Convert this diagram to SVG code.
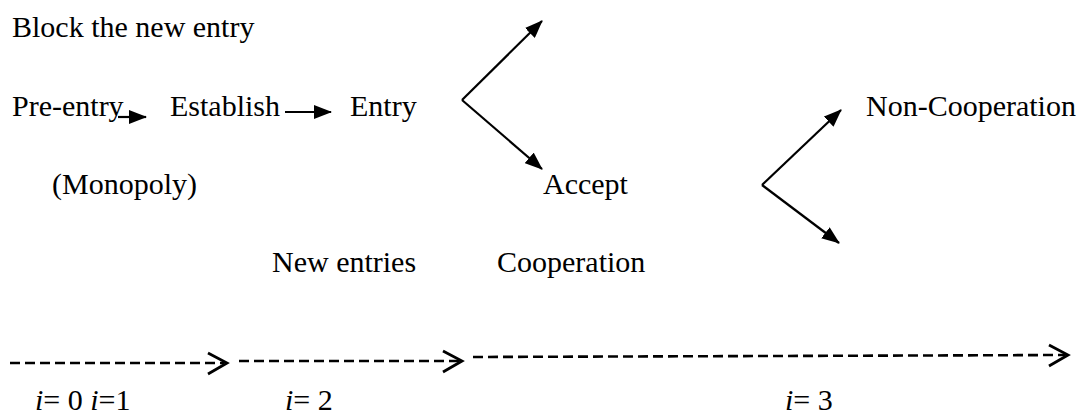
<svg xmlns="http://www.w3.org/2000/svg" width="1089" height="416" viewBox="0 0 1089 416">
<style>
text{font-family:"Liberation Serif",serif;font-size:30px;fill:#000}
.i{font-style:italic}
.ln{stroke:#000;stroke-width:2.2;fill:none}
.ds{stroke:#000;stroke-width:2.6;fill:none;stroke-dasharray:10 5}
.ch{stroke:#000;stroke-width:2.8;fill:none}
</style>
<defs>
<marker id="ah" viewBox="0 0 18 14" refX="17" refY="7" markerWidth="18" markerHeight="14" markerUnits="userSpaceOnUse" orient="auto">
<path d="M0,0 L18,7 L0,14 z" fill="#000"/>
</marker>
</defs>
<rect width="1089" height="416" fill="#fff"/>
<g id="block"><text x="12" y="37" font-family="Liberation Serif, serif">Block the new entry</text></g>
<g id="preentry"><text x="12" y="116" font-family="Liberation Serif, serif">Pre-entry</text></g>
<g id="establish"><text x="170" y="116" font-family="Liberation Serif, serif">Establish</text></g>
<g id="entry"><text x="350" y="116" font-family="Liberation Serif, serif">Entry</text></g>
<g id="monopoly"><text x="52" y="194" font-family="Liberation Serif, serif">(Monopoly)</text></g>
<g id="accept"><text x="543" y="194" font-family="Liberation Serif, serif">Accept</text></g>
<g id="newentries"><text x="272" y="272" font-family="Liberation Serif, serif">New entries</text></g>
<g id="cooperation"><text x="497" y="272" font-family="Liberation Serif, serif">Cooperation</text></g>
<g id="noncoop"><text x="866" y="116" font-family="Liberation Serif, serif">Non-Cooperation</text></g>
<g id="i0"><text x="35" y="410" font-family="Liberation Serif, serif"><tspan class="i">i</tspan>= 0 <tspan class="i">i</tspan>=1</text></g>
<g id="i2"><text x="285" y="410" font-family="Liberation Serif, serif"><tspan class="i">i</tspan>= 2</text></g>
<g id="i3"><text x="785" y="410" font-family="Liberation Serif, serif"><tspan class="i">i</tspan>= 3</text></g>
<g id="connectors">
<line class="ln" x1="118" y1="117" x2="146" y2="117" marker-end="url(#ah)"/>
<line class="ln" x1="285" y1="112" x2="331" y2="112" marker-end="url(#ah)"/>
<line class="ln" x1="462" y1="100" x2="542" y2="21" marker-end="url(#ah)"/>
<line class="ln" x1="462" y1="100" x2="542" y2="169" marker-end="url(#ah)"/>
<line class="ln" x1="762" y1="185" x2="841" y2="110" marker-end="url(#ah)"/>
<line class="ln" x1="762" y1="185" x2="839" y2="243" marker-end="url(#ah)"/>
<line class="ds" x1="10" y1="363" x2="224" y2="363"/>
<polyline class="ch" points="208,353 227,363 208,374"/>
<line class="ds" x1="239" y1="361" x2="459" y2="361"/>
<polyline class="ch" points="443,351 462,361 443,372"/>
<line class="ds" x1="473" y1="357" x2="1065" y2="355"/>
<polyline class="ch" points="1049,345 1068,355 1049,366"/>
</g>
</svg>
